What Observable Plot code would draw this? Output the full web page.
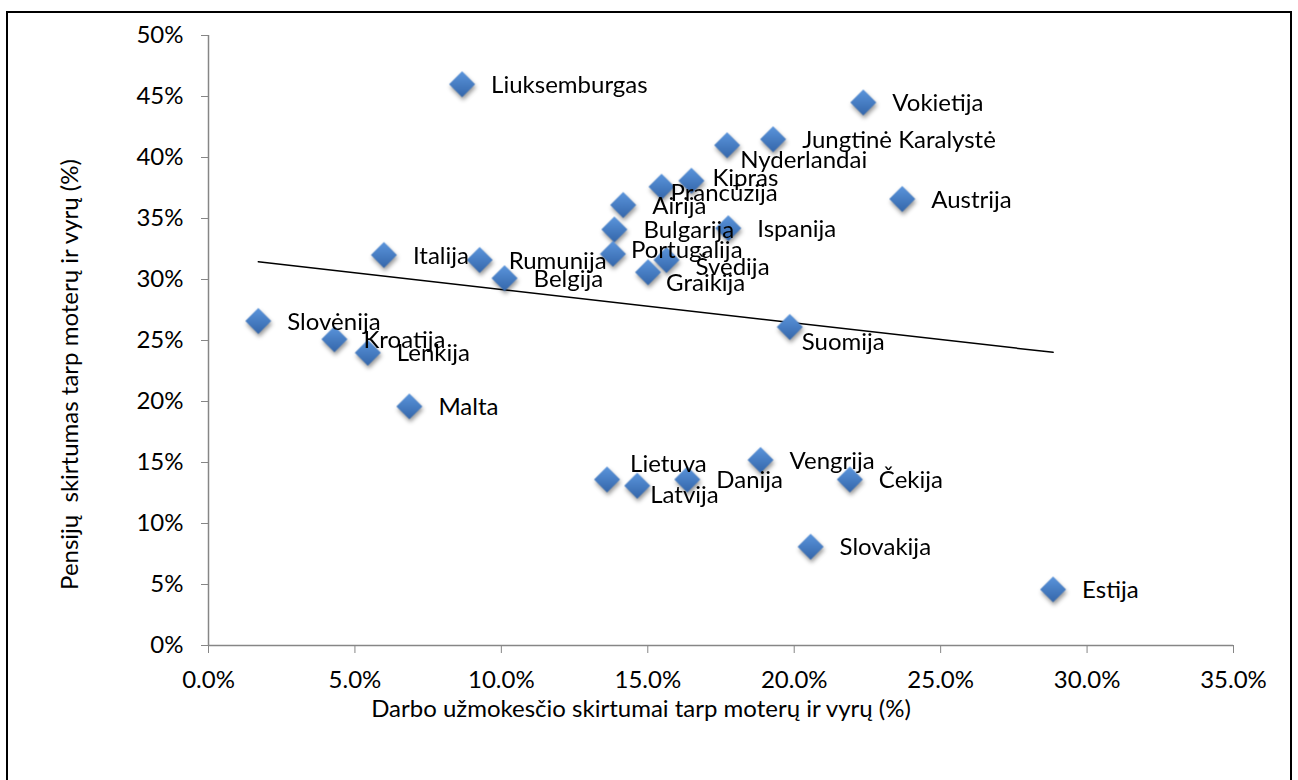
<!DOCTYPE html>
<html><head><meta charset="utf-8">
<script src="https://cdn.jsdelivr.net/npm/d3@7"></script>
<script src="https://cdn.jsdelivr.net/npm/@observablehq/plot@0.6"></script>
<style>
body{margin:0;background:#fff;}
#wrap{position:relative;width:1298px;height:780px;overflow:hidden;font-family:Lato,sans-serif;}
#border{position:absolute;left:6px;top:11px;width:1286px;height:800px;border:2px solid #000;box-sizing:border-box;}
#chart{position:absolute;left:0;top:0;}
</style></head>
<body>
<div id="wrap"><div id="border"></div><div id="chart"></div></div>
<script>
const countries = ["Liuksemburgas","Vokietija","Jungtinė Karalystė","Nyderlandai","Kipras","Prancūzija","Austrija","Airija","Bulgarija","Ispanija","Portugalija","Italija","Rumunija","Švedija","Graikija","Belgija","Slovėnija","Suomija","Kroatija","Lenkija","Malta","Vengrija","Lietuva","Čekija","Danija","Latvija","Slovakija","Estija"];
const wageGap =    [8.66, 22.36, 19.28, 17.71, 16.49, 15.47, 23.69, 14.16, 13.86, 17.75, 13.81, 5.99, 9.26, 15.64, 15.01, 10.11, 1.70, 19.85, 4.30, 5.44, 6.86, 18.85, 13.61, 21.90, 16.35, 14.64, 20.56, 28.84];
const pensionGap = [46.0, 44.5, 41.5, 41.0, 38.1, 37.6, 36.6, 36.1, 34.1, 34.2, 32.1, 32.0, 31.6, 31.6, 30.6, 30.1, 26.6, 26.1, 25.1, 24.0, 19.6, 15.2, 13.6, 13.6, 13.6, 13.1, 8.1, 4.6];
const xTicks = [0, 5, 10, 15, 20, 25, 30, 35];
const yTicks = [0, 5, 10, 15, 20, 25, 30, 35, 40, 45, 50];
const xTitle = "Darbo užmokesčio skirtumai tarp moterų ir vyrų (%)";
const yTitle = "Pensijų  skirtumas tarp moterų ir vyrų (%)";

// label placement offsets (px) where Excel moved labels
const labelOffsets = {
  "Portugalija": [18, -4], "Prancūzija": [9, 7], "Graikija": [18, 11], "Švedija": [29, 7],
  "Kipras": [21, -2], "Nyderlandai": [13, 15], "Suomija": [12, 15], "Lietuva": [23, -15], "Latvija": [13, 10]
};

const data = countries.map((c, i) => ({country: c, x: wageGap[i], y: pensionGap[i]}));
const FS = 24;

const labelMarks = data.map(d => {
  const [dx, dy] = labelOffsets[d.country] || [29, 1];
  return Plot.text([d], {x: "x", y: "y", text: "country", textAnchor: "start", dx, dy, fontSize: FS, fill: "#000"});
});

const svg = Plot.plot({
  width: 1298, height: 780,
  marginLeft: 208, marginRight: 65, marginTop: 35, marginBottom: 135,
  x: {domain: [0, 35]},
  y: {domain: [0, 50]},
  style: {fontFamily: "Lato, sans-serif", fontSize: FS + "px", background: "transparent", color: "#000"},
  marks: [
    Plot.axisY({ticks: yTicks, tickFormat: d => d + "%", tickSize: 7, tickPadding: 18, stroke: "#868686", fill: "#000", fontSize: FS, label: null}),
    Plot.axisX({ticks: xTicks, tickFormat: d => d.toFixed(1) + "%", tickSize: 8, tickPadding: 17, stroke: "#868686", fill: "#000", fontSize: FS, label: null}),
    Plot.ruleX([0], {stroke: "#868686", strokeWidth: 1.5}),
    Plot.ruleY([0], {stroke: "#868686", strokeWidth: 1.5}),
    Plot.linearRegressionY(data, {x: "x", y: "y", stroke: "#000", strokeWidth: 1.5, ci: 0}),
    Plot.dot(data, {x: "x", y: "y", symbol: "diamond2", r: 11.7, fill: "url(#dg)", stroke: "none",
      imageFilter: "drop-shadow(1px 3px 2px rgba(0,0,0,0.4))"}),
    ...labelMarks,
    Plot.text([xTitle], {text: d => d, frameAnchor: "bottom", textAnchor: "middle", dx: -80, dy: 71, fontSize: FS, fill: "#000"}),
    Plot.text([yTitle], {text: d => d, frameAnchor: "left", textAnchor: "middle", rotate: -90, dx: -138, dy: 34, fontSize: FS, fill: "#000"})
  ]
});

const ns = "http://www.w3.org/2000/svg";
const defs = document.createElementNS(ns, "defs");
defs.innerHTML = '<linearGradient id="dg" x1="0" y1="0" x2="0" y2="1"><stop offset="0" stop-color="#5b95dc"/><stop offset="1" stop-color="#3466aa"/></linearGradient>';
svg.insertBefore(defs, svg.firstChild);
document.getElementById("chart").appendChild(svg);
</script>
</body></html>
